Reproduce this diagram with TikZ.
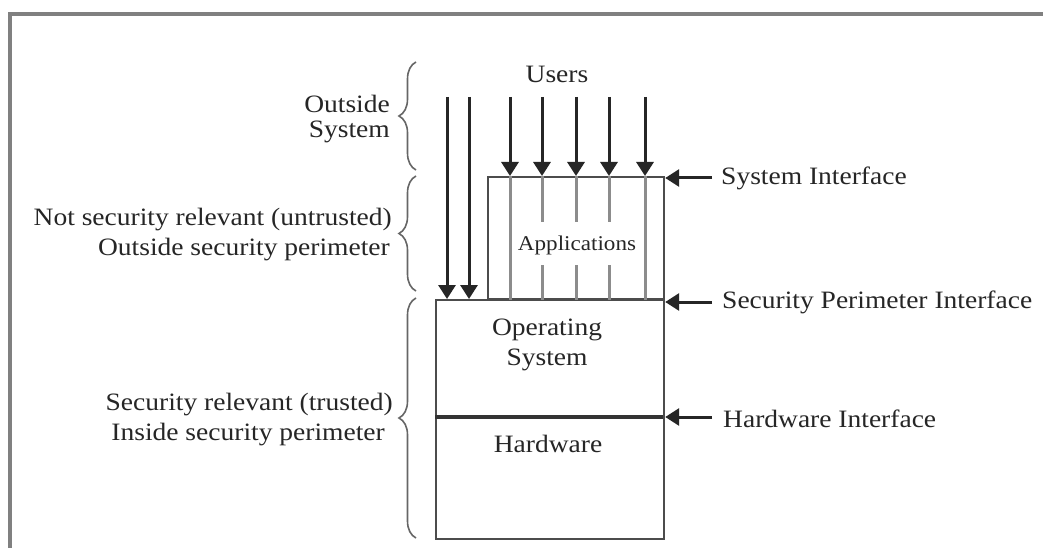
\documentclass[tikz,border=0pt]{standalone}
\usepackage{fontspec}
\setmainfont{Liberation Serif}[FakeStretch=1.1]
\usetikzlibrary{arrows.meta,decorations.pathreplacing}
\definecolor{txt}{HTML}{262626}
\begin{document}
\begin{tikzpicture}[x=1pt,y=-1pt,
  lbl/.style={inner sep=0pt, font=\fontsize{25}{30}\selectfont, text=txt},
  smlbl/.style={inner sep=0pt, font=\fontsize{21}{25}\selectfont, text=txt},
  arr/.style={line width=3pt, draw=black!85, -{Triangle[width=17pt,length=14pt]}},
  boxline/.style={draw=black!70, line width=2.2pt},
  inline/.style={draw=black!45, line width=3pt},
  hwline/.style={draw=black!80, line width=3.2pt},
  brc/.style={decorate, decoration={brace, amplitude=17pt}, draw=black!60, line width=1.6pt}]
\useasboundingbox (0,0) rectangle (1043,548);
\fill[white] (0,0) rectangle (1043,548);
% frame
\draw[line width=4pt, draw=black!50] (10,548) -- (10,14) -- (1043,14);

% boxes
\node[boxline, minimum width=176pt, minimum height=122pt, anchor=north west, inner sep=0pt] (apps) at (487,176) {};
\node[boxline, minimum width=228pt, minimum height=239pt, anchor=north west, inner sep=0pt] (core) at (435,299) {};
\coordinate (hwL) at (435,417);
\coordinate (hwR) at (663,417);
\draw[hwline] (hwL) -- (hwR);

% inner lines of Applications
\coordinate (l1) at (510,176);
\coordinate (l5) at (645,176);
\draw[inline] (l1) -- (l1 |- apps.south);
\draw[inline] (l5) -- (l5 |- apps.south);
\foreach \x/\n in {542/a,576/b,609/c}{
  \coordinate (t\n) at (\x,176);
  \coordinate (m\n) at (\x,222);
  \coordinate (k\n) at (\x,265);
  \draw[inline] (t\n) -- (m\n);
  \draw[inline] (k\n) -- (k\n |- apps.south);
}

% texts in boxes
\node[smlbl, anchor=base] (applbl) at (577,250) {Applications};
\node[lbl, anchor=base] (os1) at (547,335) {Operating};
\node[lbl, anchor=base] (os2) at (547,365) {System};
\node[lbl, anchor=base] (hw) at (548,452) {Hardware};
\node[lbl, anchor=base] (users) at (557,83) {Users};

% user arrows
\foreach \x/\n in {510/1,542/2,576/3,609/4,645/5}{
  \coordinate (s\n) at (\x,97);
  \draw[arr] (s\n) -- (s\n |- apps.north);
}
\foreach \x/\n in {447/6,469/7}{
  \coordinate (s\n) at (\x,97);
  \draw[arr] (s\n) -- (s\n |- core.north);
}

% right side interface arrows
\coordinate (r1) at (712,178);
\coordinate (r2) at (712,302);
\coordinate (r3) at (712,417);
\draw[arr] (r1) -- (r1 -| apps.east);
\draw[arr] (r2) -- (r2 -| core.east);
\draw[arr] (r3) -- (r3 -| core.east);
\node[lbl, anchor=base west] (si) at (721,185) {System Interface};
\node[lbl, anchor=base west] (spi) at (722,308) {Security Perimeter Interface};
\node[lbl, anchor=base west] (hi) at (723,427) {Hardware Interface};

% braces
\coordinate (b1a) at (416,170); \coordinate (b1b) at (416,62);
\coordinate (b2a) at (416,291); \coordinate (b2b) at (416,176);
\coordinate (b3a) at (416,538); \coordinate (b3b) at (416,298);
\draw[brc] (b1a) -- (b1b);
\draw[brc] (b2a) -- (b2b);
\draw[brc] (b3a) -- (b3b);

% left labels
\node[lbl, anchor=base east] (o1) at (390,113) {Outside};
\node[lbl, anchor=base east] (o2) at (390,138) {System};
\node[lbl, anchor=base east] (n1) at (392,225) {Not security relevant (untrusted)};
\node[lbl, anchor=base east] (n2) at (390,255) {Outside security perimeter};
\node[lbl, anchor=base east] (t1) at (393,410) {Security relevant (trusted)};
\node[lbl, anchor=base east] (t2) at (385,440) {Inside security perimeter};
\end{tikzpicture}
\end{document}
